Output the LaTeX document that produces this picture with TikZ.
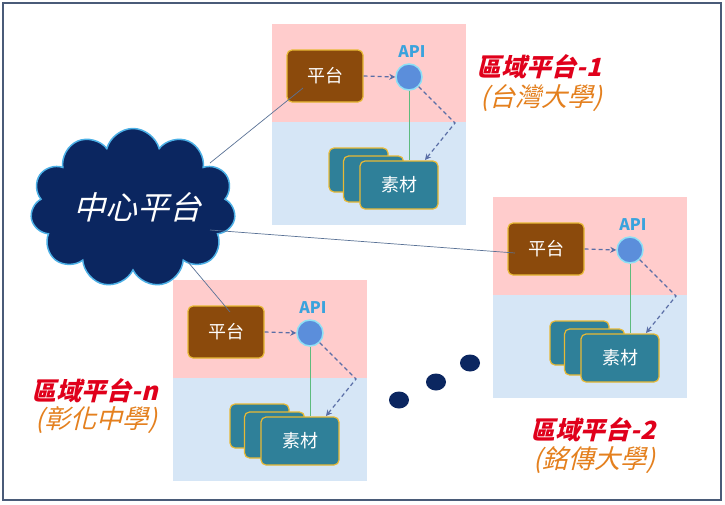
\documentclass[tikz,border=0pt]{standalone}
\usepackage{fontspec}
\usetikzlibrary{shapes.symbols,shapes.geometric,arrows.meta}
\newfontfamily\cjk{Noto Sans CJK TC}
\newfontfamily\cjksl[FakeSlant=0.25]{Noto Sans CJK TC}
\definecolor{pinkbg}{HTML}{FFCCCC}
\definecolor{bluebg}{HTML}{D6E6F6}
\definecolor{brownbox}{HTML}{8B4A0C}
\definecolor{goldline}{HTML}{E8B935}
\definecolor{tealbox}{HTML}{2F8099}
\definecolor{apifill}{HTML}{5B8EDB}
\definecolor{apiring}{HTML}{8EE0F5}
\definecolor{apitext}{HTML}{3AA3DD}
\definecolor{dashcol}{HTML}{5A6EA6}
\definecolor{greencol}{HTML}{5DBB7D}
\definecolor{navy}{HTML}{0B2660}
\definecolor{cloudedge}{HTML}{4CB0E6}
\definecolor{conncol}{HTML}{5A7296}
\definecolor{framecol}{HTML}{4A5B78}
\definecolor{labred}{HTML}{E0001B}
\definecolor{laborange}{HTML}{E4801E}
\tikzset{
  platbox/.style={rectangle, rounded corners=5pt, fill=brownbox, draw=goldline, line width=1.2pt,
    minimum width=76pt, minimum height=52pt, inner sep=0pt, text=white, font=\cjk\fontsize{18}{18}\selectfont},
  matbox/.style={rectangle, rounded corners=5pt, fill=tealbox, draw=goldline, line width=1.2pt,
    minimum width=78pt, minimum height=48pt, inner sep=0pt, text=white, font=\cjk\fontsize{18}{18}\selectfont},
  apidot/.style={circle, fill=apifill, draw=apiring, line width=1.5pt, minimum size=26pt, inner sep=0pt},
  apilabel/.style={text=apitext, font=\cjk\bfseries\fontsize{16}{16}\selectfont, inner sep=0pt},
  dasharrow/.style={draw=dashcol, line width=1.2pt, dash pattern=on 4pt off 3pt, -{Stealth[length=6pt,width=6pt]}},
  greenln/.style={draw=greencol, line width=1pt},
  conn/.style={draw=conncol, line width=0.7pt},
  redlab/.style={text=labred, font=\cjksl\bfseries\fontsize{25}{25}\selectfont, inner sep=0pt},
  orangelab/.style={text=laborange, font=\cjksl\fontsize{26}{26}\selectfont, inner sep=0pt},
  dotnode/.style={ellipse, fill=navy, minimum width=20pt, minimum height=17pt, inner sep=0pt}
}
\newcommand\regionpanel[3]{%
\begin{scope}[shift={(#1,#2)}]
\fill[pinkbg] (0,0) rectangle (194,98);
\fill[bluebg] (0,98) rectangle (194,201);
\node[platbox] (#3plat) at (53,52) {平台};
\node[apidot] (#3api) at (137,53) {};
\node[apilabel] (#3apilab) at (140,28) {API};
\node[matbox, minimum width=59pt, minimum height=44pt] (#3mA) at (86.5,146) {};
\node[matbox, minimum width=60pt, minimum height=46pt] (#3mB) at (101.5,155) {};
\node[matbox] (#3mC) at (127,161) {素材};
\coordinate (#3bend) at (183,99);
\coordinate (#3tip) at (153,136);
\draw[greenln] (#3api.south) -- (#3api.south |- #3mC.north);
\draw[dasharrow] (#3plat.east) -- (#3api.west);
\draw[dasharrow] (#3api.south east) -- (#3bend) -- (#3tip);
\end{scope}}
\begin{document}
\begin{tikzpicture}[x=1pt,y=-1pt]
\useasboundingbox (0,0) rectangle (725,504);
\fill[white] (0,0) rectangle (725,504);
\regionpanel{272}{24}{p1}
\regionpanel{493}{197}{p2}
\regionpanel{173}{280}{pn}
\node[cloud, cloud puffs=11, cloud ignores aspect, minimum width=205pt, minimum height=159pt,
  fill=navy, draw=cloudedge, line width=1.5pt] (cloud) at (133,208) {};
\node[text=white, font=\cjksl\fontsize{32}{32}\selectfont, inner sep=0pt] (cloudtext) at (137,207) {中心平台};
\coordinate (c1) at (210,163);
\coordinate (c2) at (210,230);
\coordinate (c3) at (188,262);
\coordinate (t1) at (303,88);
\coordinate (t2) at (515,253);
\coordinate (t3) at (230,312);
\draw[conn] (c1) -- (t1);
\draw[conn] (c2) -- (t2);
\draw[conn] (c3) -- (t3);
\node[redlab] (lab1) at (539,67) {區域平台-1};
\node[orangelab] (sub1) at (541,98) {(台灣大學)};
\node[redlab] (lab2) at (593,430) {區域平台-2};
\node[orangelab] (sub2) at (594,460) {(銘傳大學)};
\node[redlab] (labn) at (95,391) {區域平台-n};
\node[orangelab] (subn) at (96,420) {(彰化中學)};
\node[dotnode] (d1) at (470,363) {};
\node[dotnode] (d2) at (436,382) {};
\node[dotnode] (d3) at (399,400) {};
\draw[framecol, line width=2.5pt] (3,3) rectangle (721,500);
\end{tikzpicture}
\end{document}
